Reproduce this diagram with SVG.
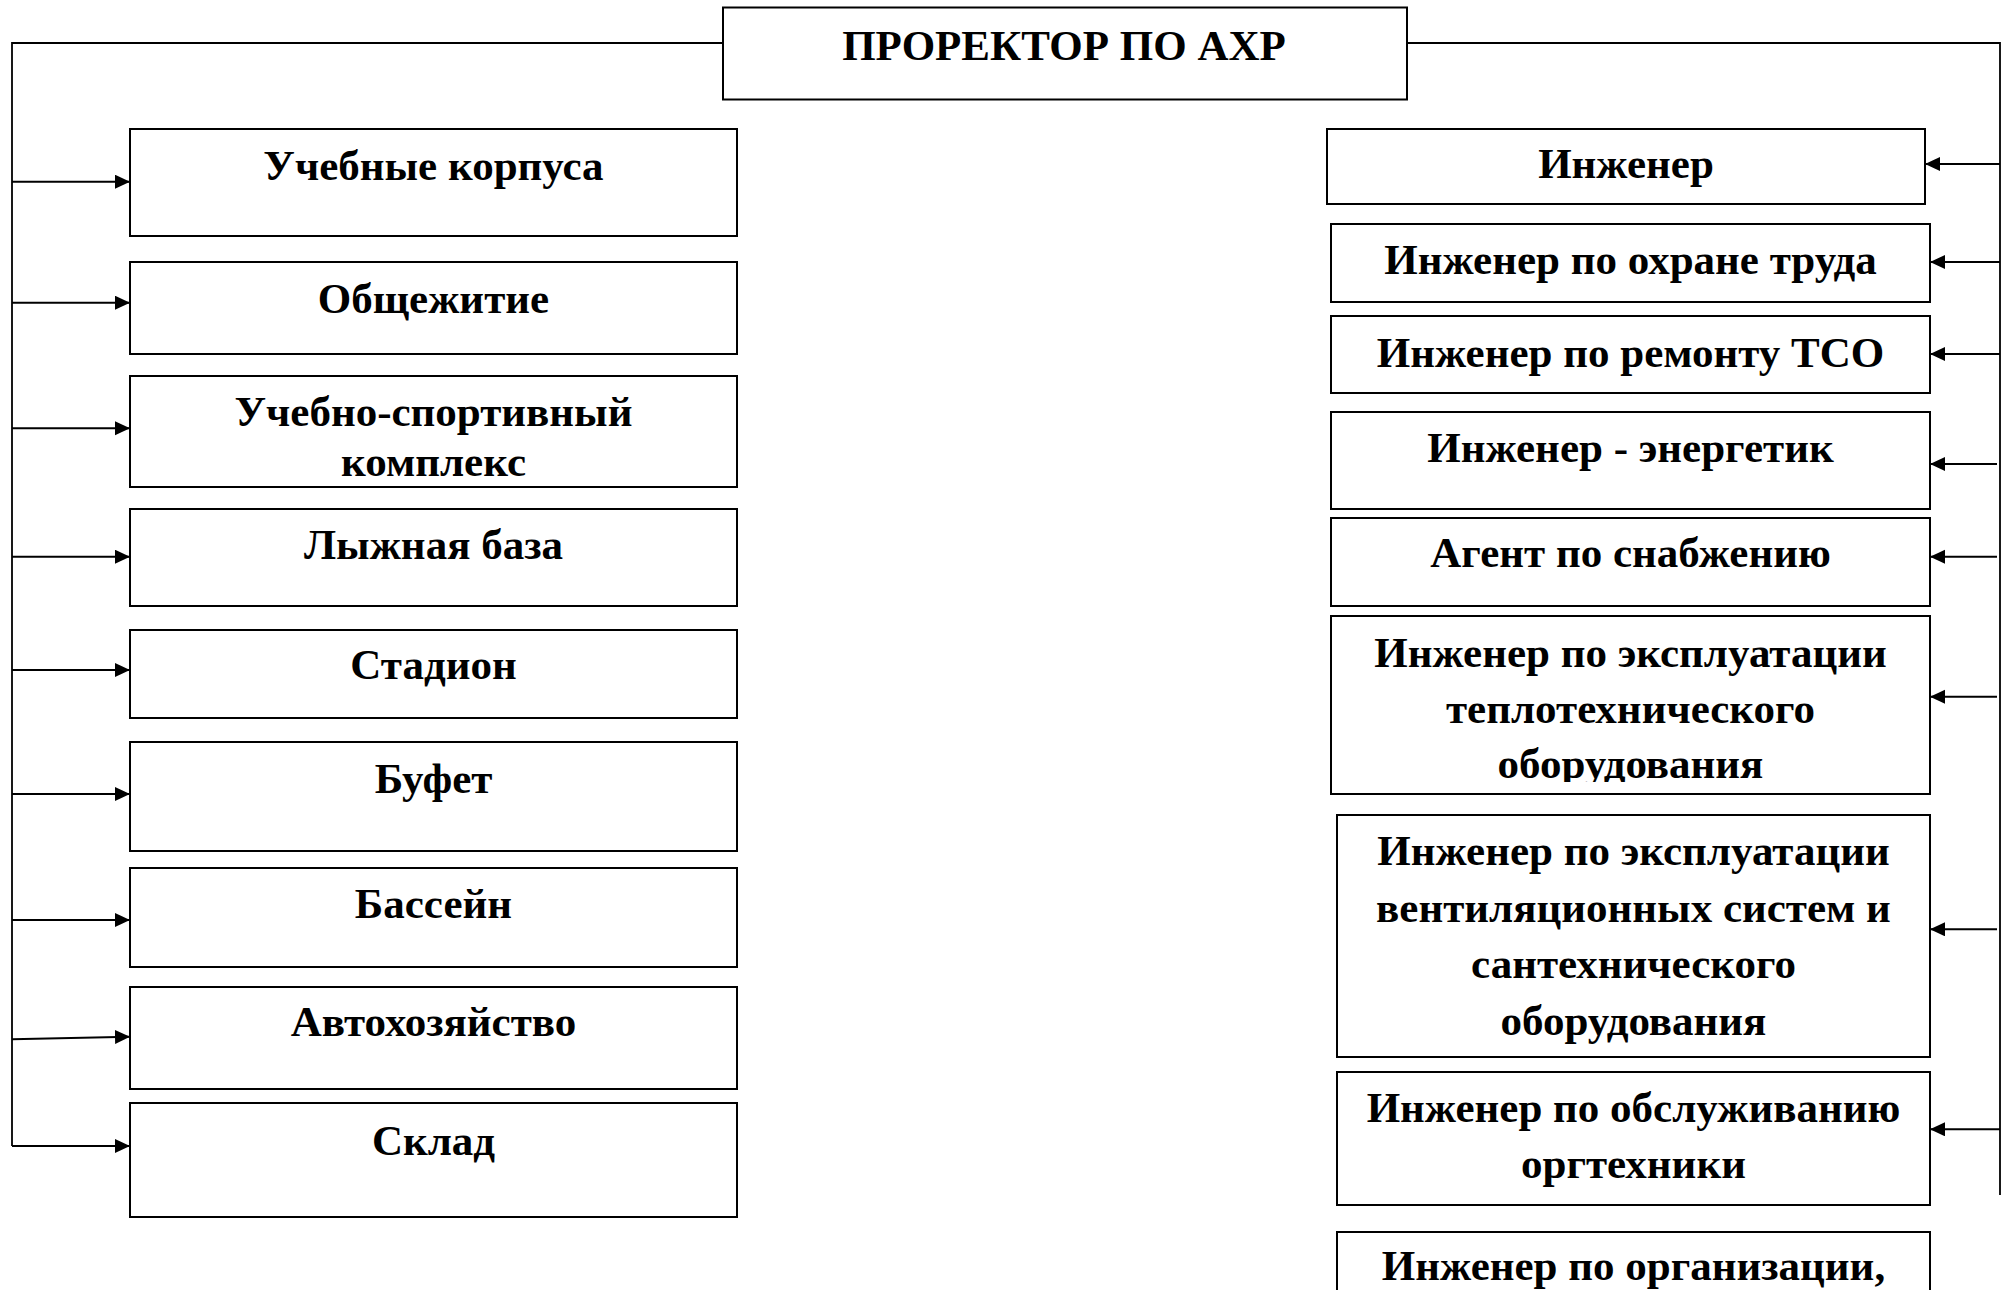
<svg xmlns="http://www.w3.org/2000/svg" width="2002" height="1290" viewBox="0 0 2002 1290">
<style>
.box{fill:#fff;stroke:#000;stroke-width:2}
.t{font-family:"Liberation Serif","Times New Roman",serif;font-weight:bold;font-size:43px;text-anchor:middle;fill:#000}
.title{font-size:43px}
.c{fill:none;stroke:#000;stroke-width:2}
.trunk{fill:none;stroke:#000;stroke-width:1.8}
</style>
<defs>
<marker id="ah" markerUnits="userSpaceOnUse" markerWidth="16" markerHeight="15" refX="15" refY="7" orient="auto"><path d="M0,0 L15,7 L0,14 z" fill="#000"/></marker>
<clipPath id="clipR6"><rect x="1331" y="616" width="599" height="166"/></clipPath>
</defs>
<rect width="2002" height="1290" fill="#fff"/>
<g id="connectors">
<path class="trunk" d="M723,43 H12 V1146"/>
<path class="trunk" d="M1407,43 H2000 V1195"/>
<line class="c" x1="12" y1="181.7" x2="130" y2="181.7" marker-end="url(#ah)"/>
<line class="c" x1="12" y1="302.7" x2="130" y2="302.7" marker-end="url(#ah)"/>
<line class="c" x1="12" y1="428.3" x2="130" y2="428.3" marker-end="url(#ah)"/>
<line class="c" x1="12" y1="556.7" x2="130" y2="556.7" marker-end="url(#ah)"/>
<line class="c" x1="12" y1="670" x2="130" y2="670" marker-end="url(#ah)"/>
<line class="c" x1="12" y1="794" x2="130" y2="794" marker-end="url(#ah)"/>
<line class="c" x1="12" y1="920" x2="130" y2="920" marker-end="url(#ah)"/>
<line class="c" x1="12" y1="1039.3" x2="130" y2="1036.7" marker-end="url(#ah)"/>
<line class="c" x1="12" y1="1146" x2="130" y2="1146" marker-end="url(#ah)"/>
<line class="c" x1="2000" y1="164" x2="1925" y2="164" marker-end="url(#ah)"/>
<line class="c" x1="2000" y1="262" x2="1930" y2="262" marker-end="url(#ah)"/>
<line class="c" x1="2000" y1="354" x2="1930" y2="354" marker-end="url(#ah)"/>
<line class="c" x1="1997" y1="464" x2="1930" y2="464" marker-end="url(#ah)"/>
<line class="c" x1="1997" y1="556.7" x2="1930" y2="556.7" marker-end="url(#ah)"/>
<line class="c" x1="1997" y1="696.7" x2="1930" y2="696.7" marker-end="url(#ah)"/>
<line class="c" x1="1997" y1="929.3" x2="1930" y2="929.3" marker-end="url(#ah)"/>
<line class="c" x1="2000" y1="1129.3" x2="1930" y2="1129.3" marker-end="url(#ah)"/>
</g>
<g id="top"><rect class="box" x="723" y="7.5" width="684" height="92"/><text class="t title" x="1064" y="60">ПРОРЕКТОР ПО АХР</text></g>
<g id="L1"><rect class="box" x="130" y="129" width="607" height="107"/><text class="t" x="433.5" y="180">Учебные корпуса</text></g>
<g id="L2"><rect class="box" x="130" y="262" width="607" height="92"/><text class="t" x="433.5" y="313">Общежитие</text></g>
<g id="L3"><rect class="box" x="130" y="376" width="607" height="111"/><text class="t" x="433.5" y="426">Учебно-спортивный</text><text class="t" x="433.5" y="476">комплекс</text></g>
<g id="L4"><rect class="box" x="130" y="509" width="607" height="97"/><text class="t" x="433.5" y="559">Лыжная база</text></g>
<g id="L5"><rect class="box" x="130" y="630" width="607" height="88"/><text class="t" x="433.5" y="679">Стадион</text></g>
<g id="L6"><rect class="box" x="130" y="742" width="607" height="109"/><text class="t" x="433.5" y="793">Буфет</text></g>
<g id="L7"><rect class="box" x="130" y="868" width="607" height="99"/><text class="t" x="433.5" y="918">Бассейн</text></g>
<g id="L8"><rect class="box" x="130" y="987" width="607" height="102"/><text class="t" x="433.5" y="1036">Автохозяйство</text></g>
<g id="L9"><rect class="box" x="130" y="1103" width="607" height="114"/><text class="t" x="433.5" y="1155">Склад</text></g>
<g id="R1"><rect class="box" x="1327" y="129" width="598" height="75"/><text class="t" x="1626" y="178">Инженер</text></g>
<g id="R2"><rect class="box" x="1331" y="224" width="599" height="78"/><text class="t" x="1630.5" y="274">Инженер по охране труда</text></g>
<g id="R3"><rect class="box" x="1331" y="316" width="599" height="77"/><text class="t" x="1630.5" y="367">Инженер по ремонту ТСО</text></g>
<g id="R4"><rect class="box" x="1331" y="412" width="599" height="97"/><text class="t" x="1630.5" y="462">Инженер - энергетик</text></g>
<g id="R5"><rect class="box" x="1331" y="518" width="599" height="88"/><text class="t" x="1630.5" y="567">Агент по снабжению</text></g>
<g id="R6"><rect class="box" x="1331" y="616" width="599" height="178"/><g clip-path="url(#clipR6)"><text class="t" x="1630.5" y="667">Инженер по эксплуатации</text><text class="t" x="1630.5" y="723">теплотехнического</text><text class="t" x="1630.5" y="778">оборудования</text></g></g>
<g id="R7"><rect class="box" x="1337" y="815" width="593" height="242"/><text class="t" x="1633.5" y="865">Инженер по эксплуатации</text><text class="t" x="1633.5" y="922">вентиляционных систем и</text><text class="t" x="1633.5" y="978">сантехнического</text><text class="t" x="1633.5" y="1035">оборудования</text></g>
<g id="R8"><rect class="box" x="1337" y="1072" width="593" height="133"/><text class="t" x="1633.5" y="1122">Инженер по обслуживанию</text><text class="t" x="1633.5" y="1178">оргтехники</text></g>
<g id="R9"><rect class="box" x="1337" y="1232" width="593" height="80"/><text class="t" x="1633.5" y="1280">Инженер по организации,</text></g>
</svg>
